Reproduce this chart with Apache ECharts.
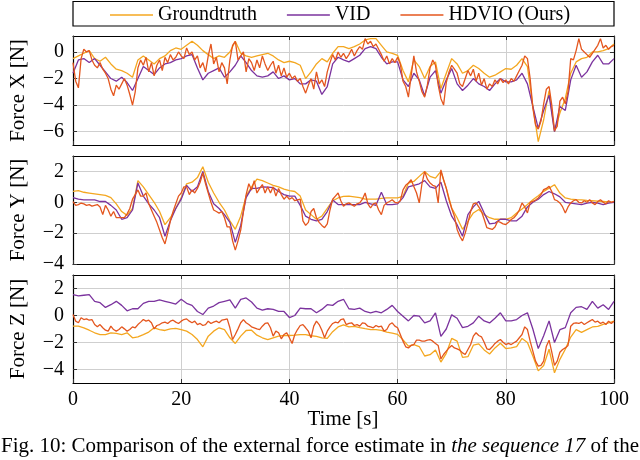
<!DOCTYPE html>
<html><head><meta charset="utf-8">
<script src="https://cdn.jsdelivr.net/npm/echarts@6/dist/echarts.min.js"></script>
<style>html,body{margin:0;padding:0;background:#fff}#c{width:640px;height:460px}</style>
</head><body><div id="c"></div>
<script>
// ---------------- data ----------------
const seriesNames = ['Groundtruth', 'VID', 'HDVIO (Ours)'];
const xTickValues = [0, 20, 40, 60, 80, 100];
const yTicksForceX = [-6, -4, -2, 0];
const yTicksForceY = [-4, -2, 0, 2];
const yTicksForceZ = [-4, -2, 0, 2];

// Groundtruth and VID sampled every 1 s (t = 0..100)
const gtX = [
 -0.5,-0.3,-0.1,0.1,-0.5,-0.7,-0.4,-0.9,-1.3,-1.4,
 -1.6,-1.9,-0.6,-0.3,-0.6,-0.9,-0.5,-0.3,0.1,0.3,
 0.2,0.5,0.8,0.5,0.1,-0.2,-0.5,-0.3,-0.4,0.0,
 0.8,-0.1,-0.3,-0.4,-0.3,-0.2,-0.1,-0.3,-0.6,-0.8,
 -0.7,-0.8,-1.0,-2.0,-1.5,-0.9,-0.5,-0.75,-0.1,0.4,
 0.4,0.25,0.4,0.6,0.9,1.0,1.0,0.5,0.0,-0.1,
 -0.25,-1.4,-2.25,-0.6,-1.1,-2.0,-1.1,-0.75,-2.75,-1.6,
 -0.5,-0.9,-1.6,-1.4,-1.0,-1.25,-1.6,-1.9,-1.75,-1.5,
 -1.25,-1.3,-1.0,-0.5,-1.1,-4.1,-6.75,-5.1,-2.9,-6.0,
 -4.6,-3.5,-1.6,-0.75,-0.5,-0.4,0.0,0.0,0.1,0.25,
 0.6];
const vidX = [
 -1.6,-0.6,-0.5,-0.8,-0.5,-1.0,-1.5,-2.0,-2.2,-1.9,
 -2.3,-2.9,-2.0,-1.1,-1.4,-1.7,-1.2,-0.9,-0.8,-0.6,
 -0.5,-0.3,-0.2,-1.2,-2.1,-1.6,-1.4,-1.2,-1.9,-1.5,
 -1.0,-0.3,-0.8,-1.4,-1.8,-1.9,-1.8,-1.5,-2.0,-1.8,
 -2.1,-2.0,-2.4,-2.4,-2.1,-2.2,-3.2,-2.6,-0.9,-0.4,
 -0.6,-0.75,-0.5,-0.25,0.25,0.4,0.25,-0.4,-0.9,-0.75,
 -0.75,-2.1,-2.6,-1.6,-2.1,-3.3,-1.9,-1.4,-3.1,-2.1,
 -1.25,-2.4,-2.9,-2.5,-2.0,-2.4,-2.6,-2.9,-2.4,-2.0,
 -2.25,-2.25,-2.1,-1.6,-2.4,-4.1,-5.75,-4.4,-3.25,-6.0,
 -4.1,-4.4,-2.1,-1.0,-1.9,-1.5,-0.75,-0.25,-0.9,-0.9,
 -0.5];
const gtY = [
 0.71,0.75,0.65,0.6,0.55,0.5,0.45,0.3,-0.1,-0.6,
 -0.85,-0.4,1.4,1.0,0.5,0.0,-0.6,-1.45,-1.0,-0.4,
 0.3,1.2,1.3,1.6,2.3,1.3,0.6,0.0,-0.5,-1.2,
 -1.75,-0.9,0.4,1.0,1.5,1.4,1.25,1.1,1.0,0.85,
 0.75,0.7,0.4,-0.5,-0.8,-1.1,-0.9,-0.4,0.1,0.28,
 0.38,0.4,0.35,0.3,0.2,0.2,0.2,0.25,0.28,0.28,
 0.28,0.39,1.25,1.35,1.68,2.0,1.68,1.57,2.0,0.92,
 -0.37,-1.0,-1.75,-1.23,-0.69,-0.47,-0.8,-1.0,-1.1,-1.1,
 -1.1,-1.0,-0.69,-0.43,-0.15,0.17,0.43,0.71,0.92,1.14,
 0.6,0.28,0.2,0.17,0.15,0.12,0.1,0.08,0.05,0.02,
 0.0];
const vidY = [
 0.3,0.2,0.15,0.15,0.15,0.05,0.05,-0.2,-0.5,-1.1,
 -1.0,-0.5,1.25,0.4,-0.1,-0.5,-1.0,-2.2,-1.2,-0.4,
 0.2,1.1,0.7,1.0,2.0,0.7,-0.1,-0.4,-0.8,-1.3,
 -2.6,-1.5,0.3,0.9,0.9,1.0,0.98,0.95,0.7,0.5,
 0.4,0.4,-0.2,-0.9,-1.1,-1.2,-1.1,-0.6,0.15,-0.15,
 -0.15,-0.15,-0.15,-0.15,0.0,-0.1,-0.2,0.65,-0.15,-0.15,
 -0.1,0.3,1.0,1.1,1.2,1.4,1.0,0.9,1.3,0.1,
 -0.9,-1.45,-2.2,-0.8,-0.3,0.06,-0.7,-1.4,-1.35,-1.1,
 -1.1,-1.2,-1.2,-0.9,-0.3,0.0,0.2,0.5,0.7,0.55,
 0.35,0.0,-0.05,-0.1,-0.15,-0.05,0.0,-0.05,-0.15,-0.05,
 0.0];
const gtZ = [
 -0.79,-0.79,-0.91,-1.09,-1.28,-1.41,-1.41,-1.28,-1.33,-1.41,
 -1.28,-1.65,-1.58,-1.41,-1.23,-0.91,-1.04,-1.11,-0.99,-0.96,
 -1.04,-1.16,-1.41,-1.78,-2.32,-1.53,-1.16,-0.91,-1.04,-1.65,
 -2.07,-1.53,-1.11,-1.09,-1.46,-1.65,-1.78,-1.65,-1.53,-1.48,
 -1.48,-1.46,-1.41,-1.41,-1.5,-1.55,-1.65,-1.7,-1.2,-0.85,
 -0.7,-0.85,-0.8,-0.9,-0.98,-1.05,-1.05,-1.1,-1.23,-1.3,
 -1.4,-1.8,-2.27,-2.15,-2.3,-3.0,-2.9,-2.55,-3.45,-2.8,
 -1.7,-1.9,-3.1,-3.05,-2.2,-2.1,-2.55,-2.85,-2.4,-2.05,
 -2.45,-2.4,-2.3,-1.7,-2.0,-3.0,-4.1,-3.7,-2.5,-4.25,
 -3.25,-2.5,-1.6,-1.05,-1.25,-1.05,-0.85,-0.8,-0.65,-0.55,
 -0.42];
const vidZ = [
 1.55,1.45,1.5,1.55,1.05,0.95,0.6,0.8,1.05,0.75,
 0.35,0.5,0.5,0.9,1.05,1.05,1.15,1.05,0.95,0.85,
 1.2,0.9,0.75,0.3,0.07,0.55,0.7,0.95,1.05,1.15,
 0.55,1.2,1.3,1.0,0.55,0.4,0.5,0.45,0.3,0.3,
 -0.15,0.0,0.55,0.5,0.5,0.2,0.45,0.8,0.75,1.05,
 1.2,0.5,0.45,0.55,0.3,0.2,0.3,0.2,0.45,0.75,
 0.3,-0.05,-0.4,0.0,-0.05,-0.55,-0.4,0.2,-1.55,-1.0,
 0.05,-0.2,-0.9,-0.8,-0.55,-0.05,-0.4,-0.55,-0.2,0.2,
 -0.4,-0.4,-0.3,0.0,0.2,-1.0,-2.45,-1.5,-0.4,-2.0,
 -1.05,-0.9,0.2,0.6,0.65,0.45,1.05,0.55,0.8,0.45,
 1.05];

// HDVIO sampled every 0.5 s (t = 0..100)
const hdvioX = [
 -0.8,-2.2,-2.7,-0.5,0.2,0.0,0.1,-0.6,-1.0,-1.2,
 -0.8,-1.3,-1.6,-2.0,-2.8,-3.3,-2.5,-2.8,-2.4,-2.0,
 -2.5,-3.2,-4.0,-3.0,-1.2,-0.6,-1.0,-0.4,-1.5,-0.8,
 -1.8,-1.0,-0.6,-1.4,-0.4,-0.8,-0.2,-0.6,-0.4,0.0,
 -0.3,-0.5,0.3,-0.2,0.0,-0.6,-0.3,-1.2,-0.8,-1.5,
 -0.3,0.6,-0.9,-0.4,-1.5,-0.8,-1.2,-2.4,-0.6,0.5,
 0.8,-0.6,-0.3,0.0,-1.5,-0.5,-0.8,-1.4,-0.6,-1.2,
 -0.3,-0.9,-1.4,-1.0,-0.7,-1.6,-1.0,-1.8,-1.2,-1.9,
 -1.6,-2.0,-1.8,-2.2,-2.0,-2.6,-3.1,-2.5,-2.0,-2.8,
 -1.5,-2.4,-2.1,-2.6,-1.5,-0.8,-0.2,-0.6,0.0,-0.4,
 -0.1,-0.5,-0.2,0.2,-0.3,0.1,0.4,0.2,1.0,0.6,
 0.8,0.4,0.6,0.2,-0.2,-0.7,-0.3,-0.9,-0.5,-0.8,
 -0.4,-0.9,-2.2,-2.6,-3.4,-1.8,-0.3,-1.5,-2.2,-3.0,
 -3.4,-2.5,-1.2,-0.6,-1.0,-2.5,-3.5,-4.0,-2.3,-1.5,
 -1.0,-1.3,-1.6,-2.4,-2.6,-2.0,-1.4,-1.8,-1.3,-2.2,
 -1.6,-2.5,-2.0,-2.8,-2.4,-2.6,-2.1,-2.4,-2.0,-2.3,
 -2.1,-2.4,-2.0,-2.2,-1.8,-1.4,-1.0,-0.3,-0.5,-2.0,
 -4.2,-5.5,-5.8,-5.2,-3.9,-2.8,-2.6,-4.0,-5.9,-5.6,
 -3.7,-3.4,-3.9,-3.0,-0.5,-0.6,0.1,1.0,0.2,0.0,
 -0.2,-0.4,-0.1,0.2,0.5,1.0,0.3,0.5,0.2,0.4,
 0.5];
const hdvioY = [
 0.05,-0.2,-0.15,-0.05,-0.1,-0.2,-0.15,-0.25,-0.2,-0.15,
 -0.3,-0.8,-0.2,-0.5,-0.9,-0.6,-1.0,-1.0,-1.0,-1.0,
 -0.75,-0.4,0.2,0.5,0.8,0.4,0.4,0.6,-0.1,-0.5,
 -0.9,-1.3,-1.8,-2.3,-2.7,-2.0,-1.2,-0.6,-0.1,0.4,
 0.6,1.0,1.0,0.5,0.8,0.6,0.9,1.3,1.9,1.2,
 0.6,0.0,-0.5,-0.6,-0.7,-0.6,-1.0,-1.6,-1.6,-2.5,
 -3.1,-2.5,-1.8,-0.6,0.5,1.2,0.8,1.4,0.6,0.9,
 1.15,0.6,1.0,0.6,1.0,0.4,0.9,0.5,0.2,0.4,
 0.2,0.3,0.1,0.15,0.2,-1.2,-1.5,-1.3,-0.6,-0.4,
 -1.0,-1.3,-1.5,-1.65,-1.4,-0.5,0.2,0.4,0.6,0.1,
 -0.26,-0.1,-0.04,-0.15,-0.26,-0.1,-0.04,0.2,0.6,-0.1,
 -0.37,-0.1,-0.04,-0.5,-0.8,-0.2,-0.04,0.05,0.17,0.0,
 -0.04,0.1,0.8,1.1,1.25,1.46,1.03,0.6,-0.04,1.2,
 2.0,1.5,1.25,1.1,1.03,-0.04,2.1,1.46,0.9,0.17,
 -0.4,-0.9,-1.76,-2.2,-2.5,-2.0,-1.33,-0.6,-0.1,-0.04,
 -0.3,-0.58,-1.1,-1.65,-1.7,-1.76,-1.6,-1.23,-1.3,-1.4,
 -1.44,-1.3,-1.12,-1.0,-0.8,-0.5,-0.04,-0.3,-0.69,0.0,
 0.06,0.15,0.28,0.5,0.82,0.9,1.03,0.7,0.17,0.1,
 -0.04,-0.3,-0.69,-0.3,-0.04,0.1,0.17,0.0,-0.04,0.1,
 0.0,0.17,-0.04,-0.15,0.05,0.17,0.0,-0.1,0.1,0.0,
 0.06];
const hdvioZ = [
 0.07,-0.42,-0.54,-0.17,-0.30,-0.25,-0.35,-0.30,-0.67,-0.84,
 -0.67,-0.91,-1.09,-1.16,-0.79,-1.04,-1.16,-1.04,-0.84,-0.99,
 -1.16,-1.04,-0.84,-0.91,-0.67,-0.49,-0.30,-0.42,-0.35,-0.54,
 -0.99,-0.74,-0.67,-0.54,-0.49,-0.59,-0.42,-0.35,-0.49,-0.59,
 -0.42,-0.30,-0.25,-0.42,-0.54,-0.42,-0.67,-0.59,-0.74,-0.67,
 -0.42,-0.59,-0.49,-0.42,-0.54,-0.35,-0.30,-0.25,-0.91,-1.78,
 -1.41,-0.99,-0.54,-0.30,-0.54,-0.67,-0.84,-0.91,-0.99,-1.04,
 -0.79,-0.59,-0.54,-0.91,-1.53,-1.16,-1.28,-1.73,-1.41,-1.28,
 -1.65,-2.07,-1.41,-1.04,-0.74,-0.67,-0.91,-1.16,-1.65,-0.79,
 -0.42,-0.67,-1.09,-1.65,-1.16,-0.84,-0.59,-0.49,-0.54,-0.30,
 -0.25,-0.67,-0.59,-0.54,-0.74,-0.67,-0.79,-0.54,-0.59,-0.79,
 -0.84,-0.91,-0.74,-0.84,-0.79,-1.16,-1.04,-0.67,-0.54,-0.79,
 -0.91,-1.41,-1.90,-2.32,-2.40,-2.22,-2.15,-1.83,-1.83,-1.90,
 -1.90,-1.83,-1.78,-1.90,-2.07,-2.22,-3.21,-2.89,-2.64,-2.40,
 -2.22,-2.40,-2.47,-2.57,-2.77,-2.89,-2.52,-2.15,-1.53,-1.28,
 -1.48,-1.58,-1.98,-2.47,-2.52,-2.32,-2.07,-1.90,-1.78,-1.98,
 -2.15,-2.07,-2.15,-2.02,-1.90,-1.65,-1.41,-0.84,-1.04,-1.90,
 -2.64,-3.38,-3.75,-3.70,-3.38,-2.27,-1.83,-2.72,-3.70,-3.38,
 -2.72,-2.52,-2.40,-2.22,-0.79,-0.59,-0.54,-0.59,-0.49,-0.67,
 -0.54,-0.42,-0.30,-0.49,-0.42,-0.59,-0.49,-0.67,-0.42,-0.59,
 -0.42];

// sampling grids
const tSec = [];  for (let i = 0; i <= 100; i++) tSec.push(i);
const tHalf = []; for (let i = 0; i <= 200; i++) tHalf.push(i / 2);

// ---------------- style ----------------
const COLORS = ['#F4A720', '#7B339E', '#E4561E'];
const FONT = 'Liberation Serif';
const FS = 20;      // tick labels, legend
const FS_T = 21;    // axis titles, caption
const grids = [
  { left: 73, width: 541, top: 36, height: 109 },
  { left: 73, width: 541, top: 156, height: 108 },
  { left: 73, width: 541, top: 275, height: 108 }
];
const yRanges = [[-7, 1.2, yTicksForceX], [-4, 3, yTicksForceY], [-5, 3, yTicksForceZ]];
const fmt = v => (v < 0 ? '\u2212' + Math.abs(v) : String(v));

const xAxes = [], yAxes = [];
grids.forEach((g, i) => {
  const common = {
    gridIndex: i, type: 'value', min: 0, max: 100,
    axisLine: { show: true, onZero: false, lineStyle: { color: '#000', width: 1.2 } },
    axisTick: { show: true, inside: true, length: 4, customValues: xTickValues, lineStyle: { color: '#333', width: 1 } }
  };
  xAxes.push(Object.assign({}, common, {
    position: 'bottom',
    axisLabel: { show: i === 2, customValues: xTickValues, margin: 7, fontFamily: FONT, fontSize: FS, color: '#000' },
    splitLine: { show: true, lineStyle: { color: '#cfcfcf', width: 1 } }
  }));
  xAxes.push(Object.assign({}, common, {
    position: 'top', axisLabel: { show: false }, splitLine: { show: false }
  }));
  const [mn, mx, ticks] = yRanges[i];
  const yc = {
    gridIndex: i, type: 'value', min: mn, max: mx,
    axisLine: { show: true, onZero: false, lineStyle: { color: '#000', width: 1.2 } },
    axisTick: { show: true, inside: true, length: 4, customValues: ticks, lineStyle: { color: '#333', width: 1 } }
  };
  yAxes.push(Object.assign({}, yc, {
    position: 'left',
    axisLabel: { show: true, customValues: ticks, formatter: fmt, margin: 9, fontFamily: FONT, fontSize: FS, color: '#000' },
    splitLine: { show: true, lineStyle: { color: '#cfcfcf', width: 1 } }
  }));
  yAxes.push(Object.assign({}, yc, {
    position: 'right', axisLabel: { show: false }, splitLine: { show: false }
  }));
});

const pair = (ts, vs) => ts.map((t, k) => [t, vs[k]]);
const sets = [
  [gtX, vidX, hdvioX],
  [gtY, vidY, hdvioY],
  [gtZ, vidZ, hdvioZ]
];
const series = [];
sets.forEach((s, i) => {
  s.forEach((vals, j) => {
    series.push({
      name: seriesNames[j], type: 'line',
      xAxisIndex: 2 * i, yAxisIndex: 2 * i,
      data: pair(j === 2 ? tHalf : tSec, vals),
      showSymbol: false, symbol: 'none',
      lineStyle: { color: COLORS[j], width: 1.3 },
      itemStyle: { color: COLORS[j] },
      z: 2 + j, silent: true
    });
  });
});

const labelY = grids.map(g => g.top + g.height / 2);
const titleStyle = t => ({ text: t, font: FS_T + 'px ' + FONT, fill: '#000', textAlign: 'center', textVerticalAlign: 'middle' });
const option = {
  animation: false,
  color: COLORS,
  grid: grids.map(g => Object.assign({ outerBoundsMode: 'none', containLabel: false }, g)),
  xAxis: xAxes,
  yAxis: yAxes,
  legend: {
    data: seriesNames, left: 110, top: 5, icon: 'rect', itemWidth: 43, itemHeight: 1.6,
    itemGap: 30, padding: 0,
    textStyle: { fontFamily: FONT, fontSize: FS, color: '#000' }
  },
  graphic: [
    { type: 'rect', shape: { x: 73, y: 1.5, width: 541, height: 24.5 },
      style: { fill: 'none', stroke: '#000', lineWidth: 1.2 }, silent: true },
    { type: 'text', x: 18, y: labelY[0], rotation: Math.PI / 2, style: titleStyle('Force X [N]') },
    { type: 'text', x: 18, y: labelY[1], rotation: Math.PI / 2, style: titleStyle('Force Y [N]') },
    { type: 'text', x: 18, y: labelY[2], rotation: Math.PI / 2, style: titleStyle('Force Z [N]') },
    { type: 'text', x: 343, y: 419, style: titleStyle('Time [s]') },
    { type: 'text', x: 1, y: 446,
      style: {
        text: '{a|Fig. 10: Comparison of the external force estimate in }{b|the sequence 17}{a| of the}',
        textVerticalAlign: 'middle',
        rich: {
          a: { fontFamily: FONT, fontSize: FS_T, fill: '#000', color: '#000' },
          b: { fontFamily: FONT, fontSize: FS_T, fontStyle: 'italic', fill: '#000', color: '#000' }
        }
      } }
  ],
  series: series
};
const chart = echarts.init(document.getElementById('c'), null, { renderer: 'canvas' });
chart.setOption(option);
</script></body></html>
